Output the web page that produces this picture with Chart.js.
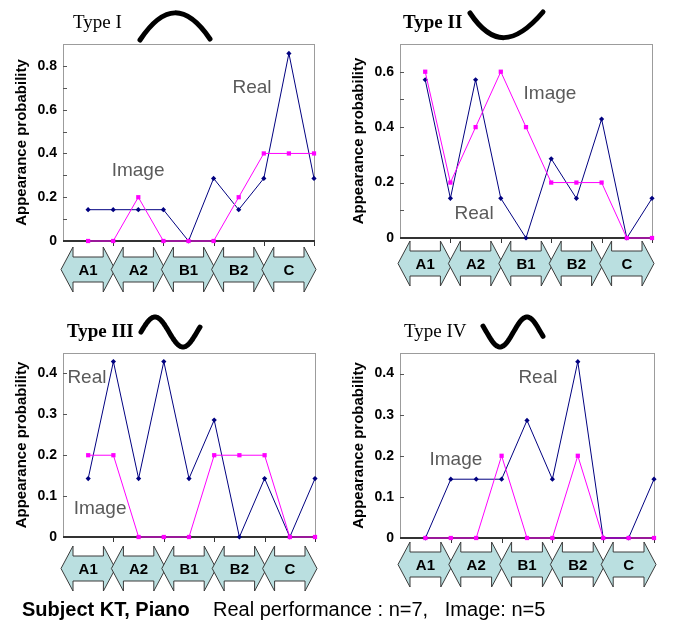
<!DOCTYPE html>
<html>
<head>
<meta charset="utf-8">
<script src="https://cdn.jsdelivr.net/npm/chart.js@4"></script>
<style>
  body { margin: 0; background: #fff; width: 674px; height: 628px; position: relative; overflow: hidden;
         font-family: "Liberation Sans", Arial, sans-serif; }
  canvas { position: absolute; }
  .note { position: absolute; top: 598px; font-size: 20px; white-space: pre; color: #000; }
</style>
</head>
<body>
<canvas id="c1" width="337" height="300" style="left:0;top:0"></canvas>
<canvas id="c2" width="337" height="300" style="left:337px;top:0"></canvas>
<canvas id="c3" width="337" height="300" style="left:0;top:305px"></canvas>
<canvas id="c4" width="337" height="300" style="left:337px;top:305px"></canvas>
<div class="note" style="left:22px;font-weight:bold">Subject KT, Piano</div>
<div class="note" style="left:213px">Real performance : n=7,   Image: n=5</div>
<script>
// phases along the x axis, two observation points each
const categories = ['A1', 'A2', 'B1', 'B2', 'C'];
const positions = [1, 2, 3, 4, 5, 6, 7, 8, 9, 10];

const typeNames = ['Type I', 'Type II', 'Type III', 'Type IV'];
const yMax = [0.9, 0.7, 0.45, 0.45];

// real performance (n=7) and image (n=5)
const real1 = [0.143, 0.143, 0.143, 0.143, 0, 0.286, 0.143, 0.286, 0.857, 0.286];
const image1 = [0, 0, 0.2, 0, 0, 0, 0.2, 0.4, 0.4, 0.4];
const real2 = [0.571, 0.143, 0.571, 0.143, 0, 0.286, 0.143, 0.429, 0, 0.143];
const image2 = [0.6, 0.2, 0.4, 0.6, 0.4, 0.2, 0.2, 0.2, 0, 0];
const real3 = [0.143, 0.429, 0.143, 0.429, 0.143, 0.286, 0, 0.143, 0, 0.143];
const image3 = [0.2, 0.2, 0, 0, 0, 0.2, 0.2, 0.2, 0, 0];
const real4 = [0, 0.143, 0.143, 0.143, 0.286, 0.143, 0.429, 0, 0, 0.143];
const image4 = [0, 0, 0, 0.2, 0, 0, 0.2, 0, 0, 0];

const realSets = [real1, real2, real3, real4];
const imageSets = [image1, image2, image3, image4];

Chart.defaults.font.family = '"Liberation Sans", Arial, sans-serif';

// layout of each panel (page coordinates)
const panels = [
  { id: 'c1', left: 0, top: 0, area: [44, 241], right: 23, arrowTop: 6, evenLabels: true,
    title: { x: 73, y: 23, bold: false }, curve: 'arch',
    notes: [['Real', 7.53, 0.70], ['Image', 2.99, 0.32]] },
  { id: 'c2', left: 337, top: 0, area: [44, 238], right: 22, arrowTop: 3, evenLabels: true,
    title: { x: 403, y: 23, bold: true }, curve: 'cup',
    notes: [['Image', 5.95, 0.52], ['Real', 2.94, 0.087]] },
  { id: 'c3', left: 0, top: 305, area: [48, 232], right: 22, arrowTop: 9, evenLabels: false,
    title: { x: 67, y: 332, bold: true }, curve: 'sineUp',
    notes: [['Real', 0.95, 0.39], ['Image', 1.47, 0.068]] },
  { id: 'c4', left: 337, top: 305, area: [48, 233], right: 20, arrowTop: 4, evenLabels: false,
    title: { x: 404, y: 332, bold: false }, curve: 'sineDown',
    notes: [['Real', 5.43, 0.39], ['Image', 2.2, 0.19]] }
];

function isTenth(v) { return Math.abs(v * 10 - Math.round(v * 10)) < 1e-6; }

function drawCurve(ctx, kind) {
  ctx.save();
  ctx.strokeStyle = '#000';
  ctx.lineWidth = 5;
  ctx.lineCap = 'round';
  ctx.lineJoin = 'round';
  ctx.beginPath();
  if (kind === 'arch') {
    ctx.moveTo(140, 40);
    ctx.bezierCurveTo(164, 4, 186, 4, 210, 39);
  } else if (kind === 'cup') {
    ctx.moveTo(470, 13);
    ctx.bezierCurveTo(492, 46, 514, 46, 543, 12);
  } else if (kind === 'sineUp') {
    for (let px = 141; px <= 200; px++) {
      const py = 332 - 15 * Math.sin(2 * Math.PI * (px - 141) / 56);
      px === 141 ? ctx.moveTo(px, py) : ctx.lineTo(px, py);
    }
  } else {
    for (let px = 483; px <= 543; px++) {
      const py = 332 + 15 * Math.sin(2 * Math.PI * (px - 486.5) / 54);
      px === 483 ? ctx.moveTo(px, py) : ctx.lineTo(px, py);
    }
  }
  ctx.stroke();
  ctx.restore();
}

const decor = {
  id: 'decor',
  beforeDatasetsDraw(chart, args, o) {
    const { ctx, chartArea: a, scales: { x, y } } = chart;
    ctx.save();
    ctx.strokeStyle = '#9c9c9c';
    ctx.lineWidth = 1;
    ctx.strokeRect(a.left + 0.5, a.top + 0.5, a.right - a.left, a.bottom - a.top);
    ctx.strokeStyle = '#555';
    for (let v = 0.1; v < o.max - 1e-6; v += 0.1) {
      const py = Math.round(y.getPixelForValue(v)) + 0.5;
      ctx.beginPath(); ctx.moveTo(a.left, py); ctx.lineTo(a.left + 4, py); ctx.stroke();
    }
    ctx.strokeStyle = '#333';
    for (let v = 2; v <= 10; v += 2) {
      const px = Math.round(x.getPixelForValue(v)) + 0.5;
      ctx.beginPath(); ctx.moveTo(px, a.bottom); ctx.lineTo(px, a.bottom + 5); ctx.stroke();
    }
    ctx.lineWidth = 2;
    ctx.beginPath(); ctx.moveTo(a.left, a.bottom); ctx.lineTo(a.right + 1, a.bottom); ctx.stroke();
    ctx.restore();
  },
  afterDraw(chart, args, o) {
    const { ctx, chartArea: a, scales: { x, y } } = chart;
    const p = o.panel;
    ctx.save();
    // Real / Image labels
    ctx.fillStyle = '#5a5a5a';
    ctx.font = '19px "Liberation Sans", Arial, sans-serif';
    ctx.textAlign = 'center';
    ctx.textBaseline = 'middle';
    p.notes.forEach(([t, vx, vy]) => ctx.fillText(t, x.getPixelForValue(vx), y.getPixelForValue(vy)));

    // double-headed phase arrows under the axis
    const top = a.bottom + p.arrowTop, h = 45, w = 12, inset = 10, mid = top + h / 2, bot = top + h;
    categories.forEach((c, k) => {
      const x0 = x.getPixelForValue(2 * k) - 2, x1 = x.getPixelForValue(2 * k + 2) + 2;
      ctx.beginPath();
      ctx.moveTo(x0 + w, top + inset);
      ctx.lineTo(x1 - w, top + inset);
      ctx.lineTo(x1 - w, top);
      ctx.lineTo(x1, mid);
      ctx.lineTo(x1 - w, bot);
      ctx.lineTo(x1 - w, bot - inset);
      ctx.lineTo(x0 + w, bot - inset);
      ctx.lineTo(x0 + w, bot);
      ctx.lineTo(x0, mid);
      ctx.lineTo(x0 + w, top);
      ctx.closePath();
      ctx.fillStyle = '#badfe0';
      ctx.fill();
      ctx.strokeStyle = '#3a3a3a';
      ctx.lineWidth = 1;
      ctx.stroke();
    });
    ctx.fillStyle = '#000';
    ctx.font = 'bold 15px "Liberation Sans", Arial, sans-serif';
    categories.forEach((c, k) => {
      ctx.fillText(c, (x.getPixelForValue(2 * k) + x.getPixelForValue(2 * k + 2)) / 2, mid + 1);
    });

    // type title and shape sketch, in page coordinates
    ctx.translate(-p.left, -p.top);
    ctx.fillStyle = '#000';
    ctx.textAlign = 'left';
    ctx.font = (p.title.bold ? 'bold ' : '') + '19px "Liberation Serif", "Times New Roman", serif';
    ctx.fillText(typeNames[o.index], p.title.x, p.title.y);
    drawCurve(ctx, p.curve);
    ctx.restore();
  }
};

panels.forEach((p, i) => {
  const canvas = document.getElementById(p.id);
  new Chart(canvas, {
    type: 'line',
    data: {
      datasets: [
        {
          label: 'Image',
          data: imageSets[i].map((v, j) => ({ x: positions[j], y: v })),
          borderColor: '#ff00ff', backgroundColor: '#ff00ff', borderWidth: 1,
          pointStyle: 'rect', pointRadius: 3, pointBorderWidth: 0, clip: false
        },
        {
          label: 'Real',
          data: realSets[i].map((v, j) => ({ x: positions[j], y: v })),
          borderColor: '#000080', backgroundColor: '#000080', borderWidth: 1,
          pointStyle: 'rectRot', pointRadius: 2.6, pointBorderWidth: 0, clip: false
        }
      ]
    },
    options: {
      responsive: false,
      animation: false,
      layout: { padding: { top: p.area[0], bottom: 300 - p.area[1], left: 0, right: p.right } },
      plugins: {
        legend: { display: false },
        tooltip: { enabled: false },
        decor: { panel: p, index: i, max: yMax[i] }
      },
      scales: {
        x: { type: 'linear', min: 0, max: 10, display: false },
        y: {
          min: 0, max: yMax[i],
          afterFit: s => { s.width = 63; },
          grid: { display: false, drawTicks: false },
          border: { display: false },
          ticks: {
            stepSize: 0.1, padding: 6, color: '#000',
            font: { size: 14, weight: 'bold' },
            callback: v => {
              if (!isTenth(v)) return '';
              if (p.evenLabels && Math.round(v * 10) % 2) return '';
              return v === 0 ? '0' : v.toFixed(1);
            }
          },
          title: {
            display: true, text: 'Appearance probability', color: '#000',
            font: { size: 15, weight: 'bold' }, padding: { top: 13, bottom: 0 }
          }
        }
      }
    },
    plugins: [decor]
  });
});
</script>
</body>
</html>
